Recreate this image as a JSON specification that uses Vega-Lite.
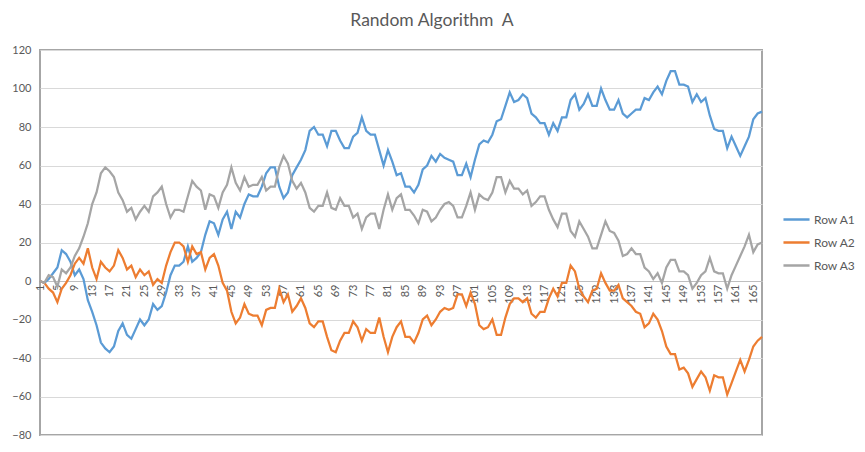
{
  "$schema": "https://vega.github.io/schema/vega-lite/v6.json",
  "autosize": "none",
  "width": 722,
  "height": 385,
  "padding": {"left": 40, "top": 50, "right": 103, "bottom": 17},
  "background": "white",
  "title": {"text": "Random Algorithm\u00a0 A", "fontSize": 17.5, "font": "Lato", "color": "#595959", "fontWeight": "normal", "anchor": "middle", "dx": 31, "offset": 15},
  "config": {"view": {"stroke": "#a6a6a6", "strokeWidth": 2}, "font": "Lato"},
  "data": {"values": [
    {"x":1,"Row A1":0,"Row A2":0,"Row A3":0},
    {"x":2,"Row A1":-1,"Row A2":-1,"Row A3":-1},
    {"x":3,"Row A1":1,"Row A2":-4,"Row A3":3},
    {"x":4,"Row A1":4,"Row A2":-6,"Row A3":2},
    {"x":5,"Row A1":7,"Row A2":-11,"Row A3":-3},
    {"x":6,"Row A1":16,"Row A2":-4,"Row A3":6},
    {"x":7,"Row A1":14,"Row A2":-1,"Row A3":4},
    {"x":8,"Row A1":10,"Row A2":3,"Row A3":7},
    {"x":9,"Row A1":3,"Row A2":9,"Row A3":13},
    {"x":10,"Row A1":6,"Row A2":12,"Row A3":17},
    {"x":11,"Row A1":1,"Row A2":9,"Row A3":23},
    {"x":12,"Row A1":-10,"Row A2":17,"Row A3":30},
    {"x":13,"Row A1":-16,"Row A2":7,"Row A3":40},
    {"x":14,"Row A1":-23,"Row A2":1,"Row A3":46},
    {"x":15,"Row A1":-32,"Row A2":10,"Row A3":56},
    {"x":16,"Row A1":-35,"Row A2":7,"Row A3":59},
    {"x":17,"Row A1":-37,"Row A2":5,"Row A3":57},
    {"x":18,"Row A1":-34,"Row A2":8,"Row A3":54},
    {"x":19,"Row A1":-26,"Row A2":16,"Row A3":46},
    {"x":20,"Row A1":-22,"Row A2":12,"Row A3":42},
    {"x":21,"Row A1":-28,"Row A2":6,"Row A3":36},
    {"x":22,"Row A1":-30,"Row A2":8,"Row A3":38},
    {"x":23,"Row A1":-25,"Row A2":2,"Row A3":32},
    {"x":24,"Row A1":-20,"Row A2":6,"Row A3":36},
    {"x":25,"Row A1":-23,"Row A2":3,"Row A3":39},
    {"x":26,"Row A1":-20,"Row A2":5,"Row A3":36},
    {"x":27,"Row A1":-12,"Row A2":-2,"Row A3":44},
    {"x":28,"Row A1":-15,"Row A2":1,"Row A3":46},
    {"x":29,"Row A1":-13,"Row A2":-1,"Row A3":49},
    {"x":30,"Row A1":-6,"Row A2":8,"Row A3":40},
    {"x":31,"Row A1":3,"Row A2":15,"Row A3":33},
    {"x":32,"Row A1":8,"Row A2":20,"Row A3":37},
    {"x":33,"Row A1":8,"Row A2":20,"Row A3":37},
    {"x":34,"Row A1":10,"Row A2":18,"Row A3":36},
    {"x":35,"Row A1":18,"Row A2":10,"Row A3":44},
    {"x":36,"Row A1":10,"Row A2":18,"Row A3":52},
    {"x":37,"Row A1":12,"Row A2":14,"Row A3":49},
    {"x":38,"Row A1":15,"Row A2":15,"Row A3":47},
    {"x":39,"Row A1":24,"Row A2":6,"Row A3":37},
    {"x":40,"Row A1":31,"Row A2":12,"Row A3":45},
    {"x":41,"Row A1":30,"Row A2":14,"Row A3":44},
    {"x":42,"Row A1":24,"Row A2":8,"Row A3":38},
    {"x":43,"Row A1":32,"Row A2":-1,"Row A3":46},
    {"x":44,"Row A1":36,"Row A2":-5,"Row A3":50},
    {"x":45,"Row A1":27,"Row A2":-16,"Row A3":59},
    {"x":46,"Row A1":36,"Row A2":-22,"Row A3":51},
    {"x":47,"Row A1":33,"Row A2":-19,"Row A3":47},
    {"x":48,"Row A1":40,"Row A2":-12,"Row A3":54},
    {"x":49,"Row A1":45,"Row A2":-17,"Row A3":49},
    {"x":50,"Row A1":44,"Row A2":-18,"Row A3":50},
    {"x":51,"Row A1":44,"Row A2":-18,"Row A3":50},
    {"x":52,"Row A1":49,"Row A2":-23,"Row A3":54},
    {"x":53,"Row A1":56,"Row A2":-15,"Row A3":47},
    {"x":54,"Row A1":59,"Row A2":-14,"Row A3":49},
    {"x":55,"Row A1":59,"Row A2":-14,"Row A3":49},
    {"x":56,"Row A1":49,"Row A2":-4,"Row A3":59},
    {"x":57,"Row A1":43,"Row A2":-11,"Row A3":65},
    {"x":58,"Row A1":46,"Row A2":-7,"Row A3":61},
    {"x":59,"Row A1":55,"Row A2":-16,"Row A3":52},
    {"x":60,"Row A1":59,"Row A2":-13,"Row A3":48},
    {"x":61,"Row A1":63,"Row A2":-9,"Row A3":51},
    {"x":62,"Row A1":68,"Row A2":-14,"Row A3":46},
    {"x":63,"Row A1":78,"Row A2":-22,"Row A3":38},
    {"x":64,"Row A1":80,"Row A2":-24,"Row A3":36},
    {"x":65,"Row A1":76,"Row A2":-21,"Row A3":39},
    {"x":66,"Row A1":76,"Row A2":-21,"Row A3":39},
    {"x":67,"Row A1":70,"Row A2":-29,"Row A3":46},
    {"x":68,"Row A1":78,"Row A2":-36,"Row A3":38},
    {"x":69,"Row A1":78,"Row A2":-37,"Row A3":37},
    {"x":70,"Row A1":73,"Row A2":-31,"Row A3":43},
    {"x":71,"Row A1":69,"Row A2":-27,"Row A3":39},
    {"x":72,"Row A1":69,"Row A2":-27,"Row A3":39},
    {"x":73,"Row A1":75,"Row A2":-21,"Row A3":33},
    {"x":74,"Row A1":77,"Row A2":-24,"Row A3":35},
    {"x":75,"Row A1":85,"Row A2":-31,"Row A3":27},
    {"x":76,"Row A1":78,"Row A2":-25,"Row A3":33},
    {"x":77,"Row A1":76,"Row A2":-27,"Row A3":35},
    {"x":78,"Row A1":76,"Row A2":-27,"Row A3":35},
    {"x":79,"Row A1":68,"Row A2":-19,"Row A3":27},
    {"x":80,"Row A1":60,"Row A2":-29,"Row A3":37},
    {"x":81,"Row A1":68,"Row A2":-37,"Row A3":45},
    {"x":82,"Row A1":62,"Row A2":-29,"Row A3":37},
    {"x":83,"Row A1":55,"Row A2":-24,"Row A3":43},
    {"x":84,"Row A1":56,"Row A2":-21,"Row A3":45},
    {"x":85,"Row A1":49,"Row A2":-29,"Row A3":37},
    {"x":86,"Row A1":49,"Row A2":-29,"Row A3":37},
    {"x":87,"Row A1":46,"Row A2":-32,"Row A3":34},
    {"x":88,"Row A1":50,"Row A2":-27,"Row A3":30},
    {"x":89,"Row A1":58,"Row A2":-20,"Row A3":37},
    {"x":90,"Row A1":60,"Row A2":-18,"Row A3":36},
    {"x":91,"Row A1":65,"Row A2":-23,"Row A3":31},
    {"x":92,"Row A1":62,"Row A2":-20,"Row A3":33},
    {"x":93,"Row A1":66,"Row A2":-16,"Row A3":37},
    {"x":94,"Row A1":64,"Row A2":-14,"Row A3":40},
    {"x":95,"Row A1":63,"Row A2":-15,"Row A3":41},
    {"x":96,"Row A1":62,"Row A2":-14,"Row A3":39},
    {"x":97,"Row A1":55,"Row A2":-7,"Row A3":33},
    {"x":98,"Row A1":55,"Row A2":-7,"Row A3":33},
    {"x":99,"Row A1":61,"Row A2":-13,"Row A3":39},
    {"x":100,"Row A1":54,"Row A2":-6,"Row A3":46},
    {"x":101,"Row A1":63,"Row A2":-12,"Row A3":37},
    {"x":102,"Row A1":71,"Row A2":-23,"Row A3":45},
    {"x":103,"Row A1":73,"Row A2":-25,"Row A3":43},
    {"x":104,"Row A1":72,"Row A2":-24,"Row A3":42},
    {"x":105,"Row A1":76,"Row A2":-20,"Row A3":46},
    {"x":106,"Row A1":83,"Row A2":-28,"Row A3":54},
    {"x":107,"Row A1":84,"Row A2":-28,"Row A3":54},
    {"x":108,"Row A1":91,"Row A2":-19,"Row A3":46},
    {"x":109,"Row A1":98,"Row A2":-12,"Row A3":52},
    {"x":110,"Row A1":93,"Row A2":-9,"Row A3":48},
    {"x":111,"Row A1":94,"Row A2":-9,"Row A3":48},
    {"x":112,"Row A1":97,"Row A2":-11,"Row A3":45},
    {"x":113,"Row A1":95,"Row A2":-9,"Row A3":47},
    {"x":114,"Row A1":87,"Row A2":-17,"Row A3":39},
    {"x":115,"Row A1":85,"Row A2":-19,"Row A3":41},
    {"x":116,"Row A1":82,"Row A2":-16,"Row A3":44},
    {"x":117,"Row A1":82,"Row A2":-16,"Row A3":44},
    {"x":118,"Row A1":76,"Row A2":-9,"Row A3":37},
    {"x":119,"Row A1":82,"Row A2":-4,"Row A3":32},
    {"x":120,"Row A1":78,"Row A2":-8,"Row A3":28},
    {"x":121,"Row A1":85,"Row A2":-1,"Row A3":35},
    {"x":122,"Row A1":85,"Row A2":-1,"Row A3":35},
    {"x":123,"Row A1":94,"Row A2":8,"Row A3":26},
    {"x":124,"Row A1":97,"Row A2":5,"Row A3":23},
    {"x":125,"Row A1":89,"Row A2":-4,"Row A3":31},
    {"x":126,"Row A1":92,"Row A2":-8,"Row A3":27},
    {"x":127,"Row A1":97,"Row A2":-11,"Row A3":23},
    {"x":128,"Row A1":91,"Row A2":-5,"Row A3":17},
    {"x":129,"Row A1":91,"Row A2":-4,"Row A3":17},
    {"x":130,"Row A1":100,"Row A2":4,"Row A3":24},
    {"x":131,"Row A1":94,"Row A2":-1,"Row A3":31},
    {"x":132,"Row A1":89,"Row A2":-5,"Row A3":26},
    {"x":133,"Row A1":89,"Row A2":-5,"Row A3":25},
    {"x":134,"Row A1":94,"Row A2":-2,"Row A3":21},
    {"x":135,"Row A1":87,"Row A2":-9,"Row A3":13},
    {"x":136,"Row A1":85,"Row A2":-11,"Row A3":14},
    {"x":137,"Row A1":87,"Row A2":-13,"Row A3":17},
    {"x":138,"Row A1":89,"Row A2":-16,"Row A3":14},
    {"x":139,"Row A1":89,"Row A2":-17,"Row A3":14},
    {"x":140,"Row A1":95,"Row A2":-24,"Row A3":7},
    {"x":141,"Row A1":94,"Row A2":-22,"Row A3":5},
    {"x":142,"Row A1":98,"Row A2":-17,"Row A3":1},
    {"x":143,"Row A1":101,"Row A2":-20,"Row A3":4},
    {"x":144,"Row A1":97,"Row A2":-26,"Row A3":-1},
    {"x":145,"Row A1":104,"Row A2":-34,"Row A3":7},
    {"x":146,"Row A1":109,"Row A2":-38,"Row A3":11},
    {"x":147,"Row A1":109,"Row A2":-38,"Row A3":11},
    {"x":148,"Row A1":102,"Row A2":-46,"Row A3":5},
    {"x":149,"Row A1":102,"Row A2":-45,"Row A3":5},
    {"x":150,"Row A1":101,"Row A2":-48,"Row A3":3},
    {"x":151,"Row A1":93,"Row A2":-55,"Row A3":-4},
    {"x":152,"Row A1":97,"Row A2":-51,"Row A3":-1},
    {"x":153,"Row A1":93,"Row A2":-47,"Row A3":3},
    {"x":154,"Row A1":95,"Row A2":-50,"Row A3":5},
    {"x":155,"Row A1":86,"Row A2":-57,"Row A3":12},
    {"x":156,"Row A1":79,"Row A2":-49,"Row A3":5},
    {"x":157,"Row A1":78,"Row A2":-50,"Row A3":4},
    {"x":158,"Row A1":78,"Row A2":-50,"Row A3":4},
    {"x":159,"Row A1":69,"Row A2":-59,"Row A3":-4},
    {"x":160,"Row A1":75,"Row A2":-53,"Row A3":3},
    {"x":161,"Row A1":70,"Row A2":-47,"Row A3":8},
    {"x":162,"Row A1":65,"Row A2":-41,"Row A3":13},
    {"x":163,"Row A1":70,"Row A2":-47,"Row A3":18},
    {"x":164,"Row A1":75,"Row A2":-41,"Row A3":24},
    {"x":165,"Row A1":84,"Row A2":-34,"Row A3":15},
    {"x":166,"Row A1":87,"Row A2":-31,"Row A3":19},
    {"x":167,"Row A1":88,"Row A2":-29,"Row A3":20}
  ]},
  "transform": [{"fold": ["Row A1", "Row A2", "Row A3"], "as": ["series", "value"]}],
  "mark": {"type": "line", "strokeWidth": 2.25},
  "encoding": {
    "x": {
      "field": "x", "type": "ordinal",
      "scale": {"type": "point", "padding": 0},
      "axis": {
        "title": null, "offset": -154, "labelAngle": 270, "labelFontSize": 11, "labelColor": "#595959",
        "labelPadding": 3, "ticks": false, "domainColor": "#bfbfbf", "domainWidth": 1, "grid": false,
        "labelOverlap": false, "labelExpr": "(datum.value - 1) % 4 === 0 ? datum.label : ''"
      }
    },
    "y": {
      "field": "value", "type": "quantitative",
      "scale": {"domain": [-80, 120], "nice": false, "zero": false},
      "axis": {
        "title": null, "values": [-80, -60, -40, -20, 0, 20, 40, 60, 80, 100, 120],
        "grid": true, "gridColor": "#d9d9d9", "domain": false, "ticks": false,
        "labelColor": "#595959", "labelFontSize": 11, "labelPadding": 9
      }
    },
    "color": {
      "field": "series", "type": "nominal",
      "scale": {"domain": ["Row A1", "Row A2", "Row A3"], "range": ["#5B9BD5", "#ED7D31", "#A5A5A5"]},
      "legend": {
        "title": null, "orient": "none", "legendX": 742, "legendY": 155,
        "symbolType": "stroke", "symbolSize": 680, "symbolStrokeWidth": 2.5,
        "labelFontSize": 12, "labelColor": "#595959", "labelOffset": 3, "rowPadding": 2
      }
    }
  }
}
